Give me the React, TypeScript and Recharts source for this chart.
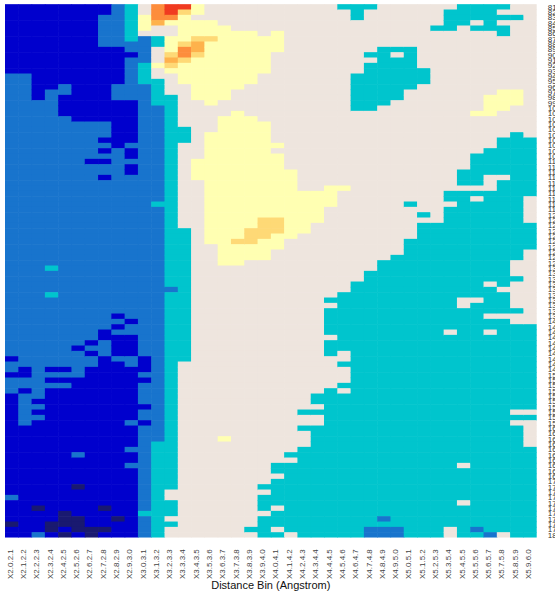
import { BarChart, Bar, XAxis, YAxis } from 'recharts';

const LEVEL_COLORS: Record<string, string> = {
    a: '#191970',
    b: '#0000CD',
    c: '#1874CD',
    d: '#00C5CD',
    e: '#EEE5DE',
    f: '#FFFFB2',
    g: '#FED976',
    h: '#FEB24C',
    i: '#FD8D3C',
    j: '#F03B20',
};

const DISTANCE_BINS = [
    'X2.0.2.1', 'X2.1.2.2', 'X2.2.2.3', 'X2.3.2.4', 'X2.4.2.5', 'X2.5.2.6', 'X2.6.2.7', 'X2.7.2.8',
    'X2.8.2.9', 'X2.9.3.0', 'X3.0.3.1', 'X3.1.3.2', 'X3.2.3.3', 'X3.3.3.4', 'X3.4.3.5', 'X3.5.3.6',
    'X3.6.3.7', 'X3.7.3.8', 'X3.8.3.9', 'X3.9.4.0', 'X4.0.4.1', 'X4.1.4.2', 'X4.2.4.3', 'X4.3.4.4',
    'X4.4.4.5', 'X4.5.4.6', 'X4.6.4.7', 'X4.7.4.8', 'X4.8.4.9', 'X4.9.5.0', 'X5.0.5.1', 'X5.1.5.2',
    'X5.2.5.3', 'X5.3.5.4', 'X5.4.5.5', 'X5.5.5.6', 'X5.6.5.7', 'X5.7.5.8', 'X5.8.5.9', 'X5.9.6.0',
];

const ROW_LABELS = [
    '81', '82', '83', '84', '85', '86', '87', '88', '89', '90',
    '91', '92', '93', '94', '95', '96', '97', '98', '99', '100',
    '101', '102', '103', '104', '105', '106', '107', '108', '109', '110',
    '111', '112', '113', '114', '115', '116', '117', '118', '119', '120',
    '121', '122', '123', '124', '125', '126', '127', '128', '129', '130',
    '131', '132', '133', '134', '135', '136', '137', '138', '139', '140',
    '141', '142', '143', '144', '145', '146', '147', '148', '149', '150',
    '151', '152', '153', '154', '155', '156', '157', '158', '159', '160',
    '161', '162', '163', '164', '165', '166', '167', '168', '169', '170',
    '171', '172', '173', '174', '175', '176', '177', '178', '179', '180',
];

// one row per line: colour level + last column of that run
const HEAT_ROWS = [
    'b7 c8 d9 e10 i11 j13 f14 e24 d27 e33 d37 e39',
    'b7 c8 d9 e10 i11 j12 g13 f14 e25 d26 e32 d36 e39',
    'b6 c8 d9 f10 i12 f13 e25 d26 e32 d38 e39',
    'b6 c8 d9 f10 h11 f15 e32 d34 e35 d36 e39',
    'b6 c8 d9 f10 e12 f16 e31 d33 e34 d37 e39',
    'b6 c8 d9 e12 f18 e19 f20 e36 d37 e39',
    'b6 c8 d9 c10 d11 f13 g15 f20 e39',
    'b6 c10 d11 f12 g13 h14 f20 e39',
    'b8 c10 e11 f12 i13 h14 f20 e27 d30 e39',
    'b9 c10 e11 g12 i13 g14 f19 e26 d28 e29 d30 e39',
    'b8 c10 e11 h12 g13 f19 e27 d30 e39',
    'b8 c9 d10 f11 g12 f19 e26 d30 e39',
    'b8 c9 d10 e11 f19 e26 d31 e39',
    'c1 b8 c9 d10 e12 f18 e25 d31 e39',
    'c1 b8 c9 d11 e12 f18 e25 d31 e39',
    'c1 b3 c4 b7 c10 d11 e13 f17 e25 d30 e39',
    'c1 b2 c4 b7 c10 d11 e13 f16 e25 d29 e36 f38 e39',
    'c1 b2 c3 b7 c10 d12 e13 f16 e25 d29 e35 f38 e39',
    'c3 b9 c10 d12 e14 f15 e25 d28 e35 f38 e39',
    'c3 b9 c11 d12 e25 d27 e35 f37 e39',
    'c3 b9 c11 d12 e16 f17 e34 f36 e39',
    'c4 b9 c11 d12 e15 f18 e39',
    'c7 b9 c11 d12 e15 f19 e39',
    'c7 b9 c11 d13 e15 f19 e39',
    'c7 b9 c11 d13 e14 f19 e37 d38 e39',
    'c6 b9 c11 d13 e14 f19 e36 d39',
    'c7 b8 c11 d12 e14 f20 e36 d39',
    'c6 b7 c8 b9 c11 d12 e14 f19 e35 d39',
    'c8 b9 c11 d12 e14 f20 e34 d39',
    'c5 b7 c11 d12 e13 f20 e34 d39',
    'c8 b9 c11 d12 e13 f20 e34 d39',
    'c8 b9 c11 d12 e13 f21 e33 d39',
    'c6 b7 c11 d12 e13 f21 e33 d35 e37 d39',
    'c11 d12 e14 f21 e33 d35 e36 d39',
    'c11 d12 e14 f21 e23 f25 e36 d39',
    'c11 d12 e14 f24 e32 d39',
    'c11 d12 e14 f24 e32 d34 e35 d38 e39',
    'c10 d12 e14 f24 e29 d30 e33 d38 e39',
    'c11 d12 e14 f23 e32 d38 e39',
    'c11 d12 e14 f23 e30 d31 e32 d38 e39',
    'c11 d12 e14 f18 g20 f23 e32 d38 e39',
    'c11 d12 e14 f18 g20 f22 e30 d39',
    'c11 d13 e14 f17 g20 f22 e30 d39',
    'c11 d13 e14 f17 g19 f21 e30 d39',
    'c11 d13 e14 f16 g18 f20 e29 d39',
    'c11 d13 e15 f20 e29 d39',
    'c11 d13 e15 f19 e29 d38 e39',
    'c11 d13 e15 f19 e28 d38 e39',
    'c11 d13 e15 f17 e27 d37 e39',
    'c2 d3 c11 d13 e27 d37 e39',
    'c11 d13 e26 d37 e39',
    'c11 d13 e26 d38 e39',
    'c11 d13 e25 d35 e36 d37 e39',
    'c12 d13 e25 d36 e39',
    'c2 d3 c11 d13 e24 d37 e39',
    'c11 d13 e23 d33 e35 d37 e39',
    'c11 d13 e24 d33 e34 d37 e39',
    'c11 d13 e23 d38 e39',
    'c7 b8 c11 d13 e23 d35 e39',
    'c8 b9 c11 d13 e23 d37 e39',
    'c7 b8 c11 d13 e23 d39',
    'c6 b7 c11 d13 e23 d32 e33 d35 e36 d39',
    'c6 b9 c11 d13 e24 d39',
    'c5 b6 c7 b9 c11 d13 e23 d39',
    'c4 b5 c7 b9 c11 d13 e23 d39',
    'c5 b6 c7 b9 c11 d13 e23 d24 e25 d39',
    'b0 c6 b7 c9 b10 c11 d13 e25 d39',
    'c6 b8 c9 b10 c11 d12 e24 d39',
    'c0 b1 c2 b4 c5 b10 c11 d12 e25 d39',
    'b1 c5 b9 c11 d12 e25 d39',
    'c2 b10 c11 d12 e25 d39',
    'c4 b9 c11 d12 e24 d39',
    'c0 b1 c2 b9 c11 d12 e23 d24 e25 d39',
    'b0 c2 b9 c11 d12 e22 d39',
    'b0 c1 b9 c11 d12 e22 d39',
    'b0 c2 b10 c11 d12 e23 d39',
    'b0 c1 b9 c11 d12 e21 d37 e39',
    'b0 c2 b9 c11 d12 e23 d39',
    'b0 c1 b8 c9 b10 c11 d12 e23 d37 e39',
    'b9 c11 d12 e21 d38 e39',
    'b9 c11 d12 e22 d38 e39',
    'b9 c11 d12 e15 f16 e22 d38 e39',
    'b9 c10 d12 e22 d38 e39',
    'b8 c10 d12 e21 d39',
    'b4 c5 b9 c10 d12 e20 d39',
    'b9 c10 d12 e21 d39',
    'b8 c10 d12 e19 d33 e34 d39',
    'b9 c10 d12 e19 d39',
    'b9 c10 d12 e20 d39',
    'b9 c10 d12 e19 d39',
    'b4 a5 b9 c10 d12 e18 d39',
    'b9 c10 d11 e19 d39',
    'c0 b9 c10 d11 e18 d39',
    'b9 c10 d12 e18 d33 e34 d39',
    'b1 a2 b6 a7 b9 c10 d12 e18 d19 e20 d39',
    'b3 a4 b9 d12 e19 d39',
    'b3 a5 b7 a8 b9 c10 d11 e18 d27 c28 d39',
    'a0 b2 a5 b9 c10 d12 e18 d39',
    'b2 a3 b4 a7 b9 c10 d11 e17 d19 e20 d26 c29 d32 e33 d34 c35 d39',
    'b1 c2 b3 a4 b5 a6 b9 c10 d11 e18 d20 e21 d26 c29 d32 e33 d35 c36 e37 d39',
];

const expandRow = (row: string) => {
    const cells: string[] = [];
    row.split(' ').forEach((run) => {
        const end = Number(run.slice(1));
        while (cells.length <= end) cells.push(run[0]);
    });
    return cells;
};

const rowLevels = HEAT_ROWS.map(expandRow);

// every cell is one unit wide, the stack puts it in its column
const chartData = ROW_LABELS.map((row) => {
    const item: Record<string, string | number> = { row };
    DISTANCE_BINS.forEach((bin) => {
        item[bin] = 1;
    });
    return item;
});

const binTicks = DISTANCE_BINS.map((_, i) => i + 0.5);

const CHART_W = 555;
const CHART_H = 596;
const MARGIN_TOP = 4.33;
const MARGIN_LEFT = 5;
const X_AXIS_H = 58.3;
const Y_AXIS_W = 18.3;
const ROW_BAND = (CHART_H - MARGIN_TOP - X_AXIS_H) / ROW_LABELS.length;

const BinTick = ({ x, y, payload }: any) => (
    <text
        transform={`translate(${x + 1},${y + 3.5}) rotate(-90)`}
        textAnchor="end"
        fontSize={8}
        fontFamily="Liberation Sans"
        fill="#444"
    >
        {DISTANCE_BINS[Math.floor(payload.value)]}
    </text>
);

const RowTick = ({ x, y, payload }: any) => (
    <text x={x + 3} y={y + 2.8} fontSize={8} fontFamily="Liberation Sans" fill="#333">
        {payload.value}
    </text>
);

// recharts floors the bar thickness, so stretch each cell back to the full band
// and let it run slightly under the next row and column to hide the seams
const heatCell = (col: number) => (props: any) => {
    const { x, y, width, height, index } = props;
    const lastRow = index === ROW_LABELS.length - 1;
    const lastCol = col === DISTANCE_BINS.length - 1;
    return (
        <rect
            x={x}
            y={y - (ROW_BAND - height) / 2}
            width={width + (lastCol ? 0 : 0.6)}
            height={ROW_BAND + (lastRow ? 0 : 0.6)}
            fill={LEVEL_COLORS[rowLevels[index][col]]}
        />
    );
};

export default function App() {
    return (
        <div style={{ position: 'absolute', left: 0, top: 0 }}>
            <BarChart
                width={CHART_W}
                height={CHART_H}
                data={chartData}
                layout="vertical"
                barCategoryGap={0}
                margin={{ top: MARGIN_TOP, right: 0, bottom: 0, left: MARGIN_LEFT }}
            >
                <XAxis
                    type="number"
                    domain={[0, 40]}
                    ticks={binTicks}
                    interval={0}
                    height={X_AXIS_H}
                    axisLine={false}
                    tickLine={false}
                    tick={<BinTick />}
                    label={{
                        value: 'Distance Bin (Angstrom)',
                        position: 'insideBottom',
                        offset: 7,
                        fontSize: 11,
                        fontFamily: 'Liberation Sans',
                        fill: '#111',
                    }}
                />
                <YAxis
                    type="category"
                    dataKey="row"
                    orientation="right"
                    width={Y_AXIS_W}
                    interval={0}
                    axisLine={false}
                    tickLine={false}
                    tick={<RowTick />}
                />
                {DISTANCE_BINS.map((bin, col) => (
                    <Bar key={bin} dataKey={bin} stackId="heat" isAnimationActive={false} shape={heatCell(col)} />
                ))}
            </BarChart>
        </div>
    );
}
